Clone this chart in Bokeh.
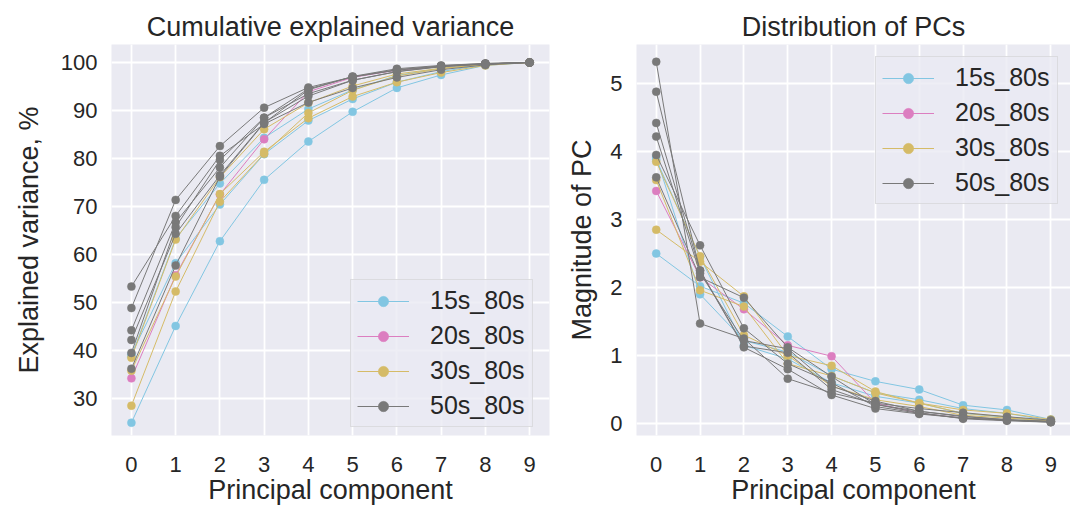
import numpy as np
from bokeh.plotting import figure
from bokeh.layouts import row
from bokeh.models import Legend, LegendItem
from bokeh.embed import file_html
from bokeh.resources import INLINE

# ---------------- data ----------------
components = list(range(10))
groups = ["15s_80s", "20s_80s", "30s_80s", "50s_80s"]
group_colors = ["#82C6E2", "#DC7EC0", "#D5BB67", "#797979"]

# magnitude of each principal component (eigenvalue), one list per run
pc_15s_80s = [
    [2.50, 2.02, 1.77, 1.28, 0.80, 0.62, 0.50, 0.27, 0.20, 0.06],
    [3.92, 1.90, 1.22, 1.05, 0.70, 0.45, 0.35, 0.22, 0.15, 0.04],
    [3.88, 2.45, 1.15, 0.95, 0.60, 0.40, 0.30, 0.15, 0.09, 0.03],
]
pc_20s_80s = [
    [3.42, 2.15, 1.68, 1.15, 0.99, 0.30, 0.15, 0.08, 0.05, 0.03],
]
pc_30s_80s = [
    [3.85, 2.46, 1.30, 1.00, 0.55, 0.35, 0.25, 0.12, 0.08, 0.04],
    [3.58, 1.96, 1.72, 0.88, 0.70, 0.45, 0.30, 0.20, 0.15, 0.06],
    [2.85, 2.38, 1.87, 1.00, 0.85, 0.47, 0.30, 0.15, 0.10, 0.03],
]
pc_50s_80s = [
    [5.32, 1.47, 1.25, 0.66, 0.45, 0.30, 0.22, 0.16, 0.10, 0.05],
    [4.88, 2.25, 1.12, 0.80, 0.42, 0.22, 0.14, 0.08, 0.05, 0.03],
    [4.42, 2.25, 1.14, 1.04, 0.50, 0.28, 0.18, 0.10, 0.06, 0.03],
    [4.22, 2.21, 1.22, 1.10, 0.55, 0.33, 0.18, 0.11, 0.05, 0.03],
    [3.95, 2.62, 1.40, 0.88, 0.60, 0.25, 0.15, 0.08, 0.05, 0.02],
    [3.62, 2.15, 1.85, 1.12, 0.69, 0.28, 0.16, 0.07, 0.04, 0.02],
]
magnitudes = [pc_15s_80s, pc_20s_80s, pc_30s_80s, pc_50s_80s]

left_yticks = [30, 40, 50, 60, 70, 80, 90, 100]
right_yticks = [0, 1, 2, 3, 4, 5]

FONT = "Liberation Sans"
TEXT = "#262626"
BG = "#EAEAF2"


def style(p, yticks, ylabel_standoff):
    p.background_fill_color = BG
    p.border_fill_color = "white"
    p.outline_line_color = None
    p.title.text_font = FONT
    p.title.text_font_size = "27px"
    p.title.text_font_style = "normal"
    p.title.text_color = TEXT
    p.title.align = "center"
    p.title.standoff = 5
    p.xaxis.ticker = components
    p.yaxis.ticker = yticks
    for ax in p.axis:
        ax.axis_line_color = None
        ax.major_tick_line_color = None
        ax.minor_tick_line_color = None
        ax.major_tick_out = 0
        ax.major_tick_in = 0
        ax.major_label_text_font = FONT
        ax.major_label_text_font_size = "22px"
        ax.major_label_text_color = TEXT
        ax.axis_label_text_font = FONT
        ax.axis_label_text_font_size = "27px"
        ax.axis_label_text_font_style = "normal"
        ax.axis_label_text_color = TEXT
    p.xaxis.major_label_standoff = 21
    p.xaxis.axis_label_standoff = 0
    p.yaxis.major_label_standoff = 14
    p.yaxis.axis_label_standoff = ylabel_standoff
    p.grid.grid_line_color = "white"
    p.grid.grid_line_width = 1.8


def draw(p, series_fn, legend_loc):
    items = []
    for name, color, runs in zip(groups, group_colors, magnitudes):
        first = None
        for vals in runs:
            y = series_fn(vals)
            ln = p.line(components, y, line_color=color, line_width=1)
            sc = p.scatter(components, y, size=8, fill_color=color,
                           line_color=color, line_width=0.5)
            if first is None:
                first = [ln, sc]
        items.append(LegendItem(label=name, renderers=first))
    legend = Legend(items=items, location=legend_loc)
    legend.label_text_font = FONT
    legend.label_text_font_size = "25px"
    legend.label_text_color = TEXT
    legend.glyph_width = 52
    legend.glyph_height = 26
    legend.label_height = 26
    legend.label_width = 96
    legend.label_standoff = 21
    legend.spacing = 6
    legend.padding = 6
    legend.margin = 0
    legend.border_line_color = "#CCCCCC"
    legend.border_line_width = 1
    legend.background_fill_color = BG
    legend.background_fill_alpha = 0.8
    p.add_layout(legend)


def cumulative(vals):
    arr = np.asarray(vals, dtype=float)
    return (np.cumsum(arr) / arr.sum() * 100.0).tolist()


def identity(vals):
    return list(vals)


p1 = figure(frame_width=438, frame_height=391,
            x_range=(-0.45, 9.45), y_range=(22.29, 103.75),
            title="Cumulative explained variance",
            x_axis_label="Principal component",
            y_axis_label="Explained variance, %",
            output_backend="svg", toolbar_location=None,
            min_border_left=111, min_border_right=10,
            min_border_top=44, min_border_bottom=76)
style(p1, left_yticks, 14)
draw(p1, cumulative, (239, 8))

p2 = figure(frame_width=434, frame_height=391,
            x_range=(-0.45, 9.45), y_range=(-0.176, 5.574),
            title="Distribution of PCs",
            x_axis_label="Principal component",
            y_axis_label="Magnitude of PC",
            output_backend="svg", toolbar_location=None,
            min_border_left=77, min_border_right=0,
            min_border_top=44, min_border_bottom=76)
style(p2, right_yticks, 10)
draw(p2, identity, (239, 231))

layout = row(p1, p2)
open("out.html", "w").write(file_html(layout, INLINE))
